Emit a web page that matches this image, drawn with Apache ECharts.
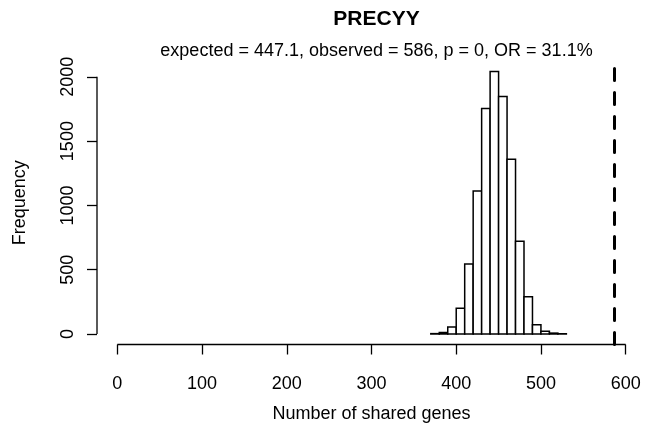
<!DOCTYPE html>
<html>
<head>
<meta charset="utf-8">
<script src="https://cdn.jsdelivr.net/npm/echarts@6/dist/echarts.min.js"></script>
<style>html,body{margin:0;padding:0;background:#fff}#c{width:657px;height:437px}</style>
</head>
<body>
<div id="c"></div>
<script>
var binBreaks = [370,380,390,400,410,420,430,440,450,460,470,480,490,500,510,520,530];
var binCounts = [3,12,55,200,545,1113,1753,2041,1847,1359,721,290,72,22,7,2];
var observed = [586];
var xTicks = [0,100,200,300,400,500,600];
var yTicks = [0,500,1000,1500,2000];
var titleText = 'PRECYY';
var subText = 'expected = 447.1, observed = 586, p = 0, OR = 31.1%';

var FONT = '"Liberation Sans", Arial, sans-serif';
var bins = binCounts.map(function (c, i) { return [binBreaks[i], binBreaks[i + 1], c]; });

var chart = echarts.init(document.getElementById('c'), null, {renderer: 'canvas'});
chart.setOption({
  animation: false,
  backgroundColor: '#fff',
  title: [
    {text: titleText, left: 371.5, top: 4, textAlign: 'center',
     textStyle: {fontFamily: FONT, fontWeight: 'bold', fontSize: 21, color: '#000'}},
    {text: subText, left: 371.5, top: 37, textAlign: 'center',
     textStyle: {fontFamily: FONT, fontWeight: 'normal', fontSize: 18, color: '#000'}}
  ],
  grid: {left: 97, right: 11, top: 61, bottom: 92.5},
  xAxis: {
    type: 'value', min: -24, max: 624,
    name: 'Number of shared genes', nameLocation: 'middle', nameGap: 61,
    nameTextStyle: {fontFamily: FONT, fontSize: 18, color: '#000'},
    axisLine: {show: false, onZero: false},
    splitLine: {show: false},
    axisTick: {show: true, length: 10, inside: false, customValues: xTicks,
               lineStyle: {color: '#000', width: 1.3}},
    axisLabel: {customValues: xTicks, margin: 31, fontFamily: FONT, fontSize: 18, color: '#000',
                formatter: function (v) { return String(v); }}
  },
  yAxis: {
    type: 'value', min: -81.6, max: 2123,
    name: 'Frequency', nameLocation: 'middle', nameGap: 68, nameRotate: 90,
    nameTextStyle: {fontFamily: FONT, fontSize: 18, color: '#000'},
    axisLine: {show: false, onZero: false},
    splitLine: {show: false},
    axisTick: {show: true, length: 10, inside: false, customValues: yTicks,
               lineStyle: {color: '#000', width: 1.3}},
    axisLabel: {customValues: yTicks, rotate: 90, margin: 20, fontFamily: FONT, fontSize: 18, color: '#000',
                formatter: function (v) { return String(v); }}
  },
  series: [
    {
      type: 'custom', name: 'hist', data: bins, clip: false,
      renderItem: function (params, api) {
        var p0 = api.coord([api.value(0), 0]);
        var p1 = api.coord([api.value(1), api.value(2)]);
        return {type: 'rect',
          shape: {x: p0[0], y: p1[1], width: p1[0] - p0[0], height: p0[1] - p1[1]},
          style: {fill: '#fff', stroke: '#000', lineWidth: 1.5}};
      },
      markLine: {
        silent: true, symbol: ['none', 'none'], label: {show: false},
        lineStyle: {color: '#000', width: 3, type: [12, 12], cap: 'round'},
        data: observed.map(function (v) { return {xAxis: v}; })
      }
    },
    {
      type: 'custom', name: 'axes', data: [[0]], clip: false, silent: true,
      renderItem: function (params, api) {
        var cs = params.coordSys;
        var yb = cs.y + cs.height;
        var xl = cs.x;
        var a = api.coord([xTicks[0], yTicks[0]]);
        var b = api.coord([xTicks[xTicks.length - 1], yTicks[yTicks.length - 1]]);
        return {type: 'group', children: [
          {type: 'line', shape: {x1: a[0], y1: yb, x2: b[0], y2: yb}, style: {stroke: '#000', lineWidth: 1.3}},
          {type: 'line', shape: {x1: xl, y1: a[1], x2: xl, y2: b[1]}, style: {stroke: '#000', lineWidth: 1.3}}
        ]};
      }
    }
  ]
});
</script>
</body>
</html>
